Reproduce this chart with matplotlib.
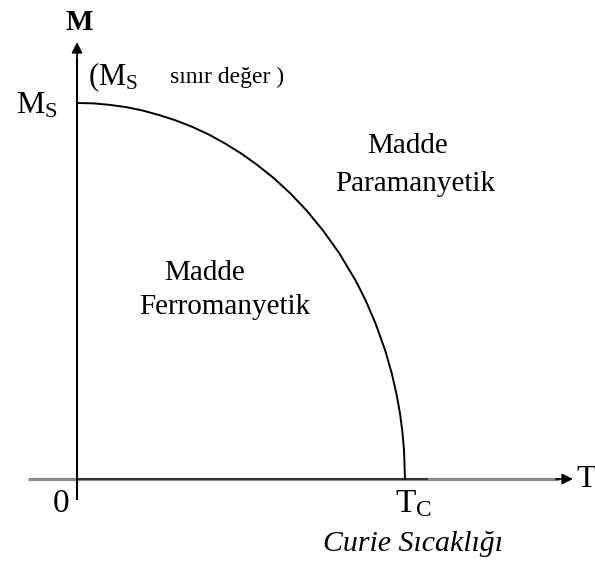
import matplotlib
matplotlib.use("Agg")
import matplotlib.pyplot as plt

plt.rcParams['font.family'] = 'Liberation Serif'
plt.rcParams['mathtext.fontset'] = 'custom'
plt.rcParams['mathtext.rm'] = 'Liberation Serif'
plt.rcParams['mathtext.it'] = 'Liberation Serif:italic'

# M(T) egrisi, T/Tc ve M/Ms cinsinden
t_oran = [0, 0.05, 0.10, 0.15, 0.20, 0.25, 0.30, 0.35, 0.40, 0.45, 0.50, 0.55,
          0.60, 0.65, 0.70, 0.75, 0.80, 0.85, 0.88, 0.91, 0.94, 0.96, 0.975,
          0.985, 0.992, 0.997, 1.0]
m_oran = [1.0, 0.999, 0.995, 0.989, 0.980, 0.968, 0.954, 0.937, 0.917, 0.893,
          0.866, 0.835, 0.800, 0.760, 0.714, 0.661, 0.600, 0.527, 0.475, 0.414,
          0.341, 0.280, 0.222, 0.173, 0.126, 0.077, 0.0]

fig = plt.figure(figsize=(5.95, 5.62), dpi=100)
ax = fig.add_axes([0, 0, 1, 1])
ax.axis('off')
ax.set_xlim(-0.2348, 1.5793)
ax.set_ylim(-0.2207, 1.2739)

# T ekseni (gri) ve 0-Tc arasi koyu kisim
ax.plot([-0.149, 1.47], [0, 0], color='#8a8a8a', lw=2.3, solid_capstyle='butt')
ax.plot([0, 1.07], [0, 0], color='#2a2a2a', lw=1.3, solid_capstyle='butt')
ax.annotate('', xy=(1.512, 0), xytext=(1.46, 0),
            arrowprops=dict(arrowstyle='-|>', color='black', lw=1.2,
                            mutation_scale=16, shrinkA=0, shrinkB=0))

# M ekseni
ax.plot([0, 0], [-0.056, 1.12], color='black', lw=1.5, solid_capstyle='butt')
ax.annotate('', xy=(0, 1.162), xytext=(0, 1.10),
            arrowprops=dict(arrowstyle='-|>', color='black', lw=1.2,
                            mutation_scale=16, shrinkA=0, shrinkB=0))

# miknatislanma egrisi
ax.plot(t_oran, m_oran, color='black', lw=1.4, solid_joinstyle='round')

ax.text(0.006, 1.215, 'M', fontsize=21, fontweight='bold', ha='center', va='center')
ax.text(-0.058, 0.973, r'$\mathrm{M}_\mathrm{S}$', fontsize=23, ha='right', va='baseline')
ax.text(0.034, 1.048, r'$(\mathrm{M}_\mathrm{S}$', fontsize=22, ha='left', va='baseline')
ax.text(0.284, 1.053, 'sınır değer )', fontsize=17, ha='left', va='baseline')

ax.text(1.009, 0.867, 'Madde', fontsize=21, ha='center', va='baseline')
ax.text(1.030, 0.766, 'Paramanyetik', fontsize=21, ha='center', va='baseline')
ax.text(0.390, 0.529, 'Madde', fontsize=21, ha='center', va='baseline')
ax.text(0.451, 0.439, 'Ferromanyetik', fontsize=21, ha='center', va='baseline')

ax.text(-0.049, -0.088, '0', fontsize=24, ha='center', va='baseline')
ax.text(0.970, -0.088, r'$\mathrm{T}_\mathrm{C}$', fontsize=24, ha='left', va='baseline')
ax.text(1.524, -0.021, 'T', fontsize=23, ha='left', va='baseline')
ax.text(1.024, -0.191, 'Curie Sıcaklığı', fontsize=21.5, style='italic', ha='center', va='baseline')

fig.savefig('out.png', dpi=100)
